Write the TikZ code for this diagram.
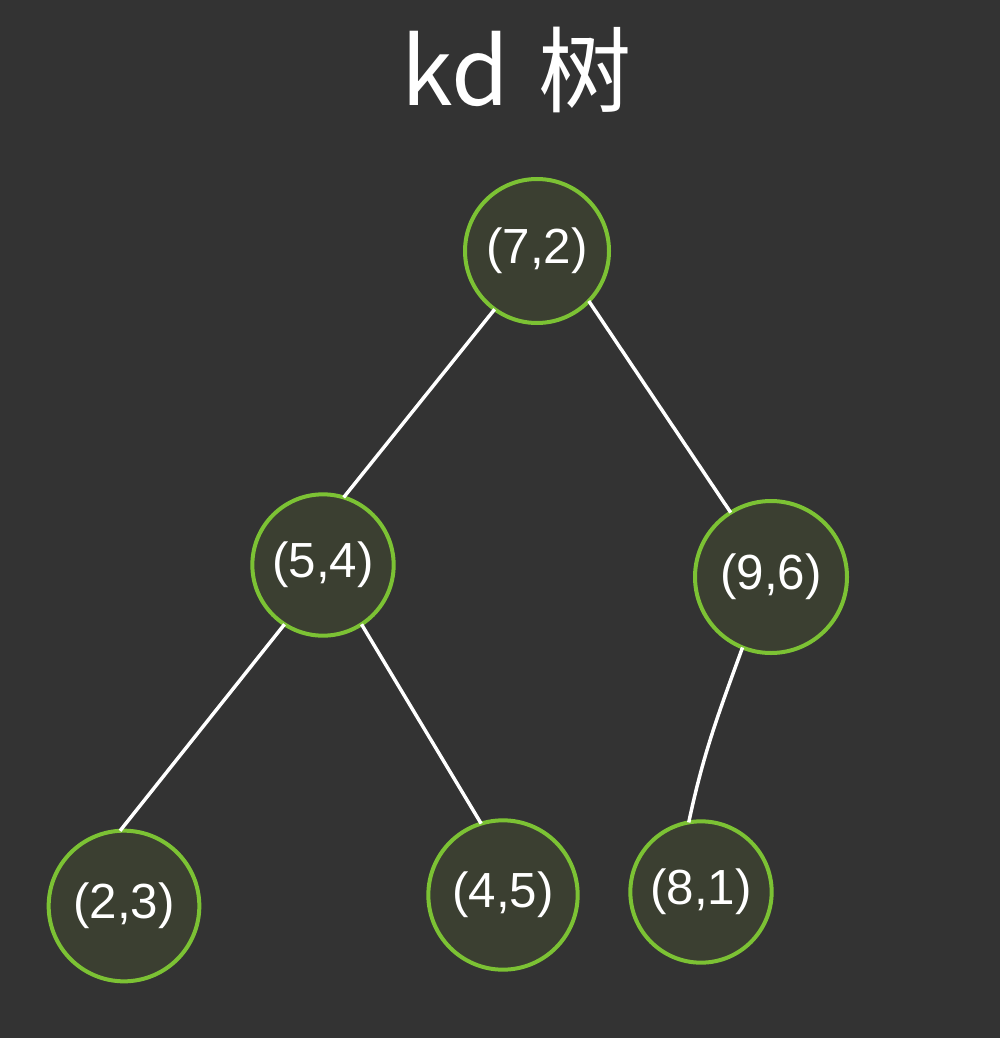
\documentclass[tikz,border=0pt]{standalone}
\usepackage{fontspec}
\setmainfont{Liberation Sans}
\newfontfamily\cjk{Noto Sans CJK SC}
\definecolor{bgc}{HTML}{333333}
\definecolor{nodefill}{HTML}{3B3F31}
\definecolor{nodeborder}{HTML}{7CC234}
\begin{document}
\begin{tikzpicture}[x=0.75pt,y=-0.75pt,
  kdnode/.style={circle,draw=nodeborder,fill=nodefill,line width=3pt,inner sep=0pt,outer sep=0pt,
    text=white,font=\fontsize{37}{42}\selectfont},
  edge/.style={draw=white,line width=2.6pt}]
\fill[bgc] (0,0) rectangle (1000,1038);
\useasboundingbox (0,0) rectangle (1000,1038);
\node[text=white,font=\cjk\fontsize{70}{74}\selectfont] (title) at (517,70) {kd\hspace{22pt}树};
\node[kdnode,minimum size=108pt] (n72) at (537,251) {(7,2)};
\node[kdnode,minimum size=106pt] (n54) at (323,565) {(5,4)};
\node[kdnode,minimum size=114pt] (n96) at (771,577) {(9,6)};
\node[kdnode,minimum size=113pt] (n23) at (124,906) {(2,3)};
\node[kdnode,minimum size=112pt] (n45) at (503,895) {(4,5)};
\node[kdnode,minimum size=106pt] (n81) at (701,892) {(8,1)};
\draw[edge] (n72.234) -- (n54.73);
\draw[edge] (n72.316) -- (n96.122);
\draw[edge] (n54.237) -- (n23.93);
\draw[edge] (n54.303) -- (n45.107);
\draw[edge] (n96.248) to[out=250,in=78] (n81.100);
\end{tikzpicture}
\end{document}
